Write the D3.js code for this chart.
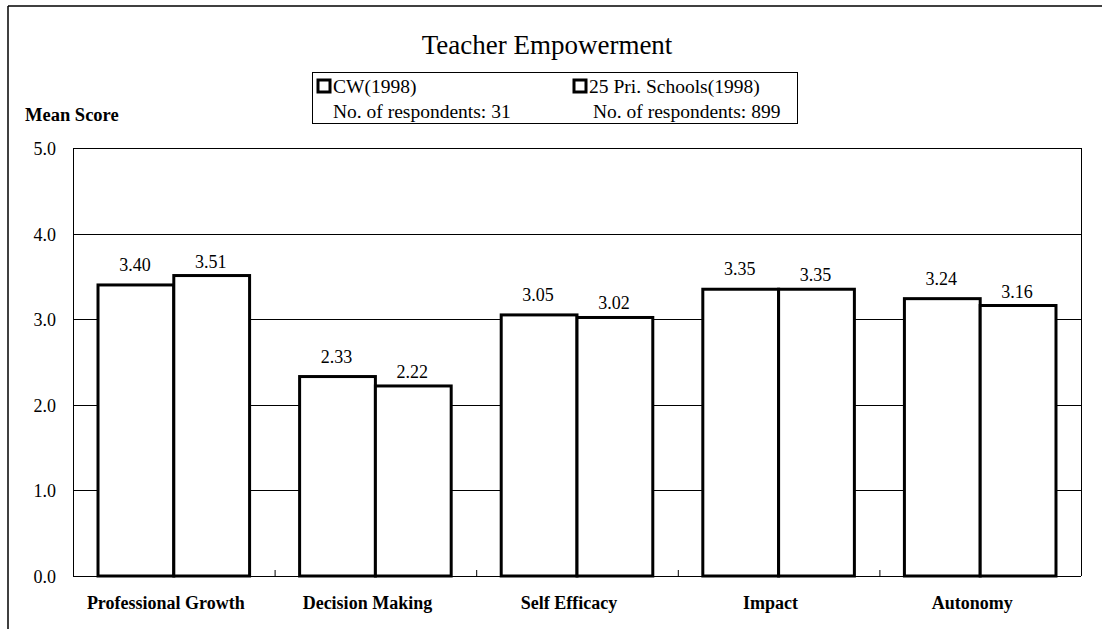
<!DOCTYPE html>
<html>
  <head>
    <meta charset="UTF-8" />
    <style>
      body {
        margin: 0;
        background-color: rgb(255, 255, 255);
      }
    </style>
  </head>
  <body>
    <svg></svg>

    <script src="https://d3js.org/d3.v7.min.js"></script>

    <script>
      let categories = ['Professional Growth', 'Decision Making', 'Self Efficacy', 'Impact', 'Autonomy']
      let seriesNames = ['CW(1998)', '25 Pri. Schools(1998)']
      let respondents = ['No. of respondents: 31', 'No. of respondents: 899']
      let cwScores = [3.4, 2.33, 3.05, 3.35, 3.24]
      let priScores = [3.51, 2.22, 3.02, 3.35, 3.16]
      let yTicks = [0, 1, 2, 3, 4, 5]

      let width = 1102,
        height = 629
      let serif = '"Liberation Serif", "Times New Roman", Times, "DejaVu Serif", serif'

      let svg = d3
        .select('svg')
        .attr('width', width)
        .attr('height', height)
        .attr('font-family', serif)
        .style('font-family', serif)

      let plot = { left: 73, right: 1081, top: 148, bottom: 576 }

      let x = d3.scaleBand().domain(categories).range([plot.left, plot.right])
      let x1 = d3
        .scaleBand()
        .domain([0, 1])
        .range([0, x.bandwidth()])
        .paddingOuter(0.33)
      let y = d3.scaleLinear().domain([0, 5]).range([plot.bottom, plot.top])

      function txt(sel) {
        return sel.append('text').attr('font-family', serif).attr('fill', '#000')
      }

      // outer frame (left and top only, like the scan)
      svg.append('line').attr('x1', 8).attr('x2', 8).attr('y1', 6).attr('y2', height).attr('stroke', '#000').attr('stroke-width', 1.5)
      svg.append('line').attr('x1', 8).attr('x2', width).attr('y1', 6).attr('y2', 6).attr('stroke', '#000').attr('stroke-width', 1.5)

      // title
      txt(svg)
        .attr('x', 547)
        .attr('y', 54)
        .attr('text-anchor', 'middle')
        .attr('font-size', 27)
        .text('Teacher Empowerment')

      // legend
      let legend = svg.append('g')
      legend
        .append('rect')
        .attr('x', 312.5)
        .attr('y', 72.5)
        .attr('width', 485)
        .attr('height', 51)
        .attr('fill', 'none')
        .attr('stroke', '#000')
        .attr('stroke-width', 1)
      let legendX = [317, 573]
      seriesNames.forEach((name, i) => {
        legend
          .append('rect')
          .attr('x', legendX[i] + 1)
          .attr('y', 80)
          .attr('width', 12)
          .attr('height', 12)
          .attr('fill', '#fff')
          .attr('stroke', '#000')
          .attr('stroke-width', 3)
        txt(legend)
          .attr('x', legendX[i] + 16)
          .attr('y', 93)
          .attr('font-size', 19.5)
          .text(name)
        txt(legend)
          .attr('x', legendX[i] + 16 + i * 4)
          .attr('y', 118)
          .attr('font-size', 19.5)
          .text(respondents[i])
      })

      // y axis title
      txt(svg).attr('x', 25).attr('y', 121).attr('font-size', 18.5).attr('font-weight', 'bold').text('Mean Score')

      // gridlines
      svg
        .append('g')
        .selectAll('line')
        .data(yTicks.filter((d) => d > 0))
        .enter()
        .append('line')
        .attr('x1', plot.left)
        .attr('x2', plot.right)
        .attr('y1', (d) => Math.round(y(d)) + 0.5)
        .attr('y2', (d) => Math.round(y(d)) + 0.5)
        .attr('stroke', '#000')
        .attr('stroke-width', 1)

      // left / right borders of the plot
      ;[plot.left, plot.right].forEach((px) => {
        svg.append('line').attr('x1', px + 0.5).attr('x2', px + 0.5).attr('y1', plot.top).attr('y2', plot.bottom).attr('stroke', '#000').attr('stroke-width', 1)
      })

      // y tick labels
      svg
        .append('g')
        .selectAll('text')
        .data(yTicks)
        .enter()
        .append('text')
        .attr('font-family', serif)
        .attr('x', 56)
        .attr('y', (d) => y(d) + 7)
        .attr('text-anchor', 'end')
        .attr('font-size', 18)
        .text((d) => d.toFixed(1))

      // baseline with small ticks at category boundaries
      let xAxis = d3.axisBottom(x).tickSize(0).tickFormat('')
      svg
        .append('g')
        .attr('transform', 'translate(0,' + (plot.bottom + 0.5) + ')')
        .call(xAxis)
        .call((g) => g.select('.domain').attr('stroke', '#000').attr('d', 'M' + plot.left + ',0H' + plot.right))
      svg
        .append('g')
        .selectAll('line')
        .data(categories.slice(1))
        .enter()
        .append('line')
        .attr('x1', (d) => x(d) + 0.5)
        .attr('x2', (d) => x(d) + 0.5)
        .attr('y1', plot.bottom - 6)
        .attr('y2', plot.bottom)
        .attr('stroke', '#000')

      // bars
      let rows = categories.map((c, i) => ({ cat: c, values: [cwScores[i], priScores[i]] }))
      let groups = svg
        .append('g')
        .selectAll('g')
        .data(rows)
        .enter()
        .append('g')
        .attr('transform', (d) => 'translate(' + x(d.cat) + ',0)')

      groups
        .selectAll('rect')
        .data((d) => d.values.map((v, i) => ({ v: v, i: i })))
        .enter()
        .append('rect')
        .attr('x', (d) => x1(d.i))
        .attr('y', (d) => y(d.v))
        .attr('width', x1.bandwidth())
        .attr('height', (d) => y(0) - y(d.v))
        .attr('fill', '#fff')
        .attr('stroke', '#000')
        .attr('stroke-width', 3)

      // value labels (first series sits a little higher, as in the original)
      groups
        .selectAll('text')
        .data((d) => d.values.map((v, i) => ({ v: v, i: i })))
        .enter()
        .append('text')
        .attr('font-family', serif)
        .attr('x', (d) => x1(d.i) + x1.bandwidth() / 2 - 1)
        .attr('y', (d) => y(d.v) - (d.i === 0 ? 14 : 8))
        .attr('text-anchor', 'middle')
        .attr('font-size', 18)
        .text((d) => d.v.toFixed(2))

      // category labels
      svg
        .append('g')
        .selectAll('text')
        .data(categories)
        .enter()
        .append('text')
        .attr('font-family', serif)
        .attr('x', (d) => x(d) + x.bandwidth() / 2 - 8)
        .attr('y', 609)
        .attr('text-anchor', 'middle')
        .attr('font-size', 18)
        .attr('font-weight', 'bold')
        .text((d) => d)
    </script>
  </body>
</html>
